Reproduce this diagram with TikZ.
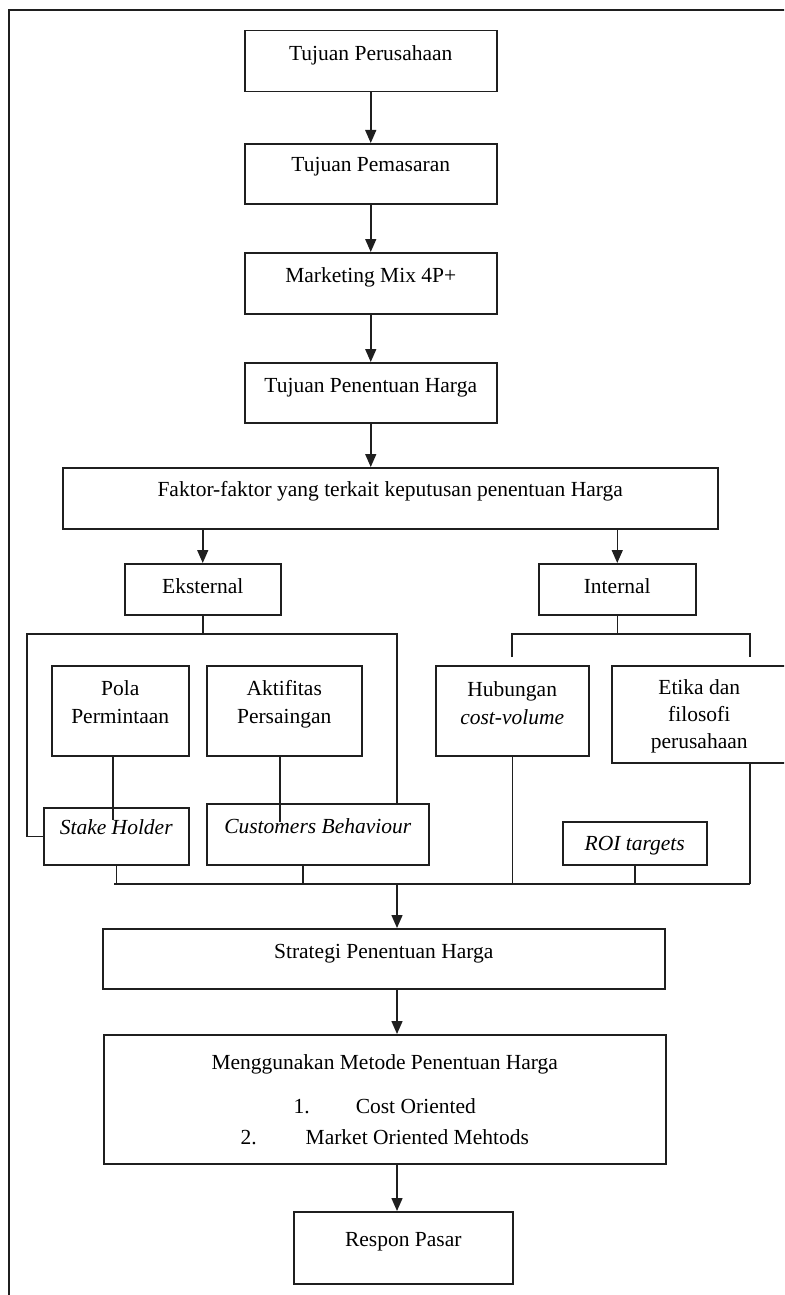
\documentclass[tikz,border=0pt]{standalone}
\usepackage{fontspec}
\setmainfont{Liberation Serif}
\usetikzlibrary{arrows.meta}
\definecolor{hpInk}{HTML}{1F1F1F}
\tikzset{
  hp box/.style={draw=hpInk, line width=1.5pt, inner sep=0pt, anchor=north west, align=center, font=\fontsize{21.5pt}{28pt}\selectfont},
  hp line/.style={draw=hpInk, line width=1.5pt},
  hp arrow/.style={draw=hpInk, line width=1.5pt, -{Triangle[length=13pt,width=11pt]}},
}

\begin{document}
\begin{tikzpicture}[x=1pt,y=-1pt]
  \clip (0,0) rectangle (784,1295);
  \draw[hp line] (9,1300) -- (9,10) -- (790,10);

  % main chain
  \node[hp box, minimum width=252pt, text height=30pt, text depth=31pt] (perusahaan) at (244,30) {Tujuan Perusahaan};
  \node[hp box, minimum width=252pt, text height=28pt, text depth=32pt] (pemasaran) at (244,143) {Tujuan Pemasaran};
  \node[hp box, minimum width=252pt, text height=30pt, text depth=31pt] (mix) at (244,252) {Marketing Mix 4P+};
  \node[hp box, minimum width=252pt, text height=30pt, text depth=30pt] (tujuanharga) at (244,362) {Tujuan Penentuan Harga};
  \node[hp box, minimum width=655pt, text height=29pt, text depth=32pt] (faktor) at (62,467) {Faktor-faktor yang terkait keputusan penentuan Harga};
  \node[hp box, minimum width=156pt, text height=30pt, text depth=21pt] (eksternal) at (124,563) {Eksternal};
  \node[hp box, minimum width=157pt, text height=30pt, text depth=21pt] (internal) at (538,563) {Internal};

  % factors
  \node[hp box, minimum width=137pt, text height=58pt, text depth=32pt] (pola) at (51,665) {Pola\\Permintaan};
  \node[hp box, minimum width=155pt, text height=58pt, text depth=32pt] (aktifitas) at (206,665) {Aktifitas\\Persaingan};
  \node[hp box, minimum width=153pt, text height=59pt, text depth=31pt] (hubungan) at (435,665) {Hubungan\\\textit{cost-volume}};
  \node[hp box, minimum width=175pt, text height=83pt, text depth=14pt] (etika) at (611,665) {Etika dan\\[-1pt]filosofi\\[-1pt]perusahaan};
  \node[hp box, minimum width=145pt, text height=27pt, text depth=30pt] (stake) at (43,807) {\textit{Stake Holder}};
  \node[hp box, minimum width=222pt, text height=30pt, text depth=31pt] (customers) at (206,803) {\textit{Customers Behaviour}};
  \node[hp box, minimum width=144pt, text height=29pt, text depth=14pt] (roi) at (562,821) {\textit{ROI targets}};

  % lower chain
  \node[hp box, minimum width=562pt, text height=30pt, text depth=30pt] (strategi) at (102,928) {Strategi Penentuan Harga};
  \node[hp box, minimum width=562pt, text height=110pt, text depth=19pt] (metode) at (103,1034) {Menggunakan Metode Penentuan Harga\\[16pt]1.\hspace{46pt}Cost Oriented\\[3pt]2.\hspace{49pt}Market Oriented Mehtods};
  \node[hp box, minimum width=219pt, text height=35pt, text depth=37pt] (respon) at (293,1211) {Respon Pasar};

  \coordinate (eksL) at (27,634);
  \coordinate (eksR) at (397,634);
  \coordinate (intL) at (512,634);
  \coordinate (intR) at (750,634);
  \coordinate (hubTop) at (512,657);
  \coordinate (etiTop) at (750,657);
  \coordinate (polaEnd) at (113,820);
  \coordinate (aktEnd) at (280,822);
  \coordinate (custDrop) at (303,884);
  \coordinate (busL) at (114,884);
  \coordinate (busM) at (397,884);
  \coordinate (busR) at (750,884);

  \draw[hp arrow] (perusahaan.south) -- (pemasaran.north);
  \draw[hp arrow] (pemasaran.south) -- (mix.north);
  \draw[hp arrow] (mix.south) -- (tujuanharga.north);
  \draw[hp arrow] (tujuanharga.south) -- (tujuanharga.south |- faktor.north);
  \draw[hp arrow] (faktor.south -| eksternal.north) -- (eksternal.north);
  \draw[hp arrow] (faktor.south -| internal.north) -- (internal.north);

  \draw[hp line] (eksternal.south) -- (eksternal.south |- eksL);
  \draw[hp line] (stake.west) -| (eksL) -- (eksR) -- (eksR |- customers.north);
  \draw[hp line] (pola.south -| polaEnd) -- (polaEnd);
  \draw[hp line] (aktifitas.south -| aktEnd) -- (aktEnd);

  \draw[hp line] (internal.south) -- (internal.south |- intL);
  \draw[hp line] (hubTop) -- (intL) -- (intR) -- (etiTop);

  \draw[hp line] (stake.south) -- (stake.south |- busL);
  \draw[hp line] (custDrop |- customers.south) -- (custDrop);
  \draw[hp line] (hubungan.south) -- (hubungan.south |- busL);
  \draw[hp line] (roi.south) -- (roi.south |- busL);
  \draw[hp line] (etika.south -| busR) -- (busR);
  \draw[hp line] (busL) -- (busR);

  \draw[hp arrow] (busM) -- (busM |- strategi.north);
  \draw[hp arrow] (strategi.south -| busM) -- (metode.north -| busM);
  \draw[hp arrow] (metode.south -| busM) -- (respon.north -| busM);
\end{tikzpicture}
\end{document}
